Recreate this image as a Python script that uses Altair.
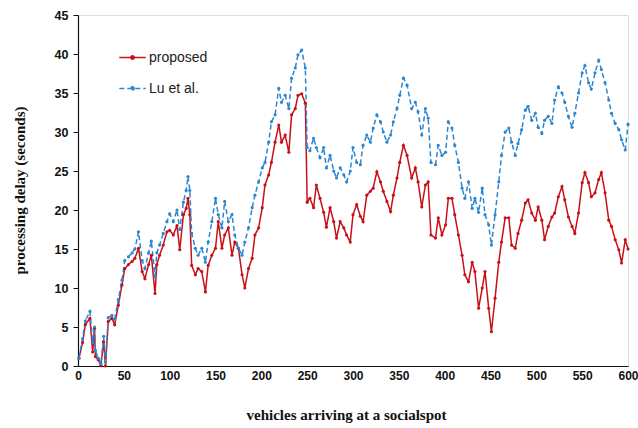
import altair as alt
import pandas as pd

# x positions (vehicles) and values
x_a = [1, 5, 8, 13, 16, 18, 19, 22, 25, 28, 30, 33, 37, 40, 44, 48, 51, 55, 59, 62,
       66, 70, 73, 77, 80, 84, 86, 89, 93, 97, 100, 104, 108, 111, 115, 118, 120]
prop_a = [1.0, 3.0, 5.3, 6.1, 1.8, 4.8, 1.2, 0.8, 0.1, 3.1, 0.0, 5.7, 6.1, 5.3, 7.8, 10.4, 12.5, 13.0, 13.4, 13.8,
          15.1, 12.1, 11.2, 13.0, 14.2, 9.3, 13.0, 14.2, 15.5, 17.2, 17.4, 16.8, 18.0, 14.9, 19.4, 20.2, 21.5]
lu_a = [1.0, 3.5, 5.8, 7.0, 3.0, 5.0, 2.0, 1.0, 0.3, 3.8, 0.5, 6.2, 6.5, 6.0, 8.5, 11.0, 13.5, 14.0, 14.5, 15.0,
        17.2, 13.5, 12.5, 14.5, 16.0, 11.5, 14.5, 15.5, 17.0, 18.5, 19.5, 18.5, 20.0, 17.5, 21.0, 22.5, 24.3]

x_b = [122, 124, 128, 131, 135, 139, 142, 146, 150, 153, 157, 160, 164, 168, 171, 175, 179, 182, 186, 190,
       193, 197, 201, 204, 208, 211, 215, 219, 222, 226, 230, 233, 237, 240]
prop_b = [19.4, 12.9, 11.7, 12.5, 12.1, 9.5, 12.9, 14.2, 15.1, 18.5, 15.1, 16.8, 17.7, 14.2, 15.9, 15.1, 11.7, 10.0, 12.5, 13.8,
          16.8, 17.7, 20.3, 23.2, 24.5, 26.1, 28.7, 30.9, 28.7, 29.6, 27.4, 32.2, 33.0, 34.7]
lu_b = [22.5, 17.0, 15.1, 14.2, 15.1, 13.3, 15.9, 18.5, 21.5, 19.4, 17.7, 21.1, 18.5, 19.4, 16.8, 15.1, 14.2, 15.9, 17.7, 20.3,
        21.9, 23.6, 25.4, 26.1, 28.7, 31.3, 32.2, 35.6, 33.8, 34.7, 33.0, 36.9, 38.2, 39.9]

x_c = [244, 248, 250, 253, 257, 260, 264, 268, 271, 275, 279, 282, 286, 290, 293, 297, 300, 304, 308, 311,
       315, 319, 322, 326, 330, 333, 337, 341, 344, 348, 351, 355, 359]
prop_c = [34.9, 33.7, 21.0, 21.5, 20.3, 23.2, 21.5, 19.7, 17.8, 20.3, 18.5, 16.4, 18.5, 17.7, 16.8, 15.9, 19.4, 20.7, 19.2, 18.5,
          21.9, 22.4, 22.8, 24.9, 23.6, 22.4, 21.1, 19.8, 21.9, 24.1, 26.1, 28.3, 27.0]
lu_c = [40.5, 38.2, 28.0, 27.6, 29.2, 28.0, 26.7, 28.0, 25.4, 27.0, 25.0, 24.1, 25.4, 24.5, 23.6, 25.0, 28.0, 26.1, 25.8, 28.3,
        29.6, 28.7, 30.5, 32.2, 31.3, 30.0, 28.7, 29.6, 31.3, 33.0, 34.7, 36.9, 36.0]

x_d = [364, 368, 371, 375, 379, 382, 385, 390, 393, 397, 401, 404, 408, 411, 415, 419, 422, 426, 430, 433,
       437, 441, 444, 448, 451, 455, 459, 462, 466, 470, 473, 477, 480]
prop_d = [24.1, 25.4, 23.6, 20.4, 23.2, 23.6, 16.8, 16.4, 19.0, 16.8, 18.1, 21.5, 21.5, 19.4, 16.8, 14.2, 11.7, 10.8, 13.3, 12.1,
          7.4, 10.0, 12.1, 7.4, 4.4, 8.7, 13.3, 15.9, 19.0, 19.0, 15.5, 15.1, 17.0]
lu_d = [33.0, 33.8, 32.6, 29.6, 33.0, 31.8, 26.1, 25.8, 28.3, 27.0, 27.4, 31.3, 30.5, 28.3, 26.1, 22.8, 21.5, 23.6, 20.2, 21.5,
        19.7, 22.8, 19.4, 18.1, 15.5, 19.4, 23.6, 27.0, 30.0, 30.5, 28.7, 27.0, 28.5]

x_e = [484, 488, 491, 495, 499, 502, 506, 509, 513, 517, 520, 524, 528, 531, 535, 539, 542, 546, 550, 553,
       557, 560, 564, 568, 571, 575, 579, 582, 586, 590, 593, 597, 600]
prop_e = [18.7, 20.9, 21.3, 19.6, 18.7, 20.4, 18.7, 16.2, 17.9, 19.1, 19.6, 21.7, 23.0, 21.3, 19.1, 17.9, 17.0, 19.6, 23.5, 24.8,
          23.5, 21.7, 22.2, 23.9, 24.8, 22.2, 18.7, 17.9, 16.2, 14.9, 13.2, 16.2, 15.0]
lu_e = [30.3, 32.8, 33.3, 31.5, 32.4, 30.6, 29.8, 31.5, 32.0, 31.1, 34.1, 35.8, 35.0, 33.8, 32.0, 30.6, 32.4, 35.0, 37.6, 38.5,
        36.3, 35.5, 37.6, 39.2, 38.0, 36.3, 34.1, 32.4, 31.1, 30.3, 29.0, 27.7, 31.0]

xs = x_a + x_b + x_c + x_d + x_e
proposed = prop_a + prop_b + prop_c + prop_d + prop_e
lu = lu_a + lu_b + lu_c + lu_d + lu_e

series_names = ["proposed", "Lu et al."]
x_ticks = list(range(0, 601, 50))
y_ticks = list(range(0, 46, 5))

df = pd.concat([
    pd.DataFrame({"x": xs, "y": proposed, "series": series_names[0]}),
    pd.DataFrame({"x": xs, "y": lu, "series": series_names[1]}),
])

color_scale = alt.Scale(domain=series_names, range=["#c81018", "#2a86d1"])
dash_scale = alt.Scale(domain=series_names, range=[[1, 0], [5, 3]])

legend = alt.Legend(
    title=None, orient="none", legendX=40, legendY=28,
    symbolType="M-1,0L1,0M0,-0.12A0.12,0.12,0,1,1,0,0.12A0.12,0.12,0,1,1,0,-0.12Z",
    symbolSize=700, symbolStrokeWidth=1.6,
    labelFont="Liberation Sans", labelFontSize=14, labelColor="#222222",
    rowPadding=9, labelOffset=2,
)

chart = alt.Chart(df).mark_line(
    strokeWidth=1.5,
    point=alt.OverlayMarkDef(size=10, filled=True, strokeWidth=0),
).encode(
    x=alt.X("x:Q", scale=alt.Scale(domain=[0, 600], nice=False),
            axis=alt.Axis(values=x_ticks, title="vehicles arriving at a socialspot",
                          titleFont="Liberation Serif", titleFontSize=15, titleFontWeight="bold",
                          titleColor="#111111", titleX=268, titleY=41,
                          labelFont="Liberation Sans", labelFontSize=12, labelFontWeight="bold",
                          labelColor="#111111", labelPadding=4, tickSize=0, labelFlush=False,
                          domainColor="#111111", domainWidth=1.2, grid=False)),
    y=alt.Y("y:Q", scale=alt.Scale(domain=[0, 45], nice=False),
            axis=alt.Axis(values=y_ticks, title="processing delay (seconds)",
                          titleFont="Liberation Serif", titleFontSize=15, titleFontWeight="bold",
                          titleColor="#111111", titleX=-51, titleY=175,
                          labelFont="Liberation Sans", labelFontSize=12.5, labelFontWeight="bold",
                          labelColor="#111111", labelPadding=5, tickSize=5, tickColor="#111111",
                          domainColor="#111111", domainWidth=1.2, grid=False)),
    color=alt.Color("series:N", scale=color_scale, legend=legend, sort=series_names),
    strokeDash=alt.StrokeDash("series:N", scale=dash_scale, legend=legend, sort=series_names),
    detail="series:N",
).properties(
    width=550, height=351,
    autosize=alt.AutoSizeParams(type="none"),
    padding={"left": 78, "top": 15, "right": 10, "bottom": 62},
).configure_view(
    stroke="#111111", strokeWidth=1.2,
).configure(background="white")

chart.save("out.html", embed_options={"renderer": "svg", "actions": False})
